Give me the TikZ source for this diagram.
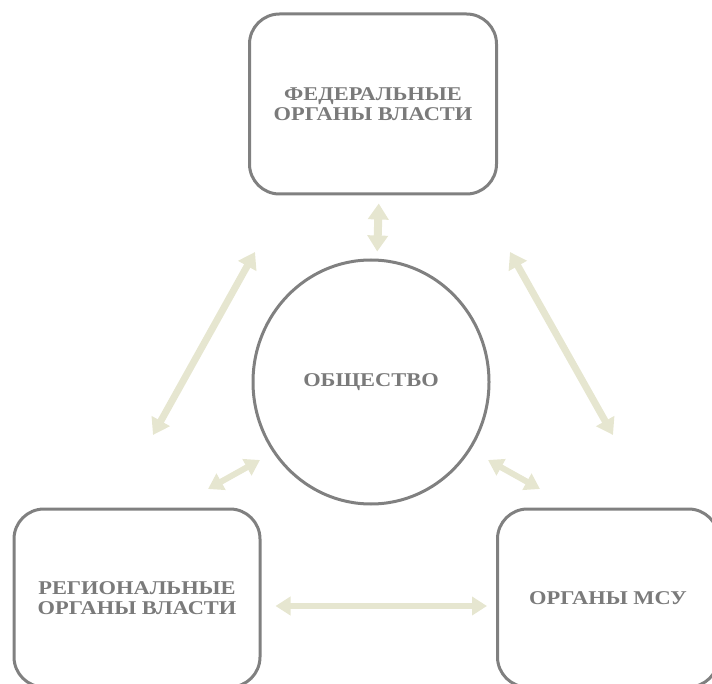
\documentclass[tikz,border=0pt]{standalone}
\usepackage{fontspec}
\setmainfont{Liberation Serif}
\newfontfamily\boxfont[FakeStretch=1.15]{Liberation Serif}
\usetikzlibrary{arrows.meta,shapes.geometric}

\definecolor{framegray}{HTML}{808080}
\definecolor{textgray}{HTML}{7A7A7A}
\definecolor{linkbeige}{HTML}{E6E6D0}

\tikzset{
  box/.style={draw=framegray, line width=3pt, rounded corners=30pt,
    align=center, font=\boxfont\bfseries\fontsize{19.5}{20.5}\selectfont, text=textgray},
  link/.style={draw=linkbeige, line width=6pt,
    {Triangle[width=18pt,length=15pt]}-{Triangle[width=18pt,length=15pt]}},
  widelink/.style={link, line width=7pt,
    {Triangle[width=20pt,length=16pt]}-{Triangle[width=20pt,length=16pt]}}
}

\begin{document}
\begin{tikzpicture}[x=1pt,y=-1pt]

        \useasboundingbox (0,0) rectangle (712,684);

        \begin{scope}[every node/.style={box}]
          \node[minimum width=247pt, minimum height=180pt] (fed) at (373,104) {ФЕДЕРАЛЬНЫЕ\\ОРГАНЫ ВЛАСТИ};
          \node[minimum width=246pt, minimum height=178pt] (reg) at (137,598) {РЕГИОНАЛЬНЫЕ\\ОРГАНЫ ВЛАСТИ};
          \node[minimum width=221pt, minimum height=178pt] (msu) at (608,598) {ОРГАНЫ МСУ};
          \node[ellipse, rounded corners=0pt, minimum width=236pt, minimum height=244pt] (soc) at (371,382) {ОБЩЕСТВО};
        \end{scope}

        \coordinate (rf1) at (153,435);
        \coordinate (rf2) at (255,252);
        \coordinate (mf1) at (613,435);
        \coordinate (mf2) at (510,252);
        \coordinate (rs1) at (208,489);
        \coordinate (rs2) at (260,460);
        \coordinate (ms1) at (540,489);
        \coordinate (ms2) at (488,460);

        \draw[widelink, line width=8pt, shorten <=8pt, shorten >=7pt]
          ([xshift=6pt]fed.south) -- ([xshift=6pt]soc.north);
        \draw[link, shorten <=14pt, shorten >=9pt] ([yshift=-8pt]reg.east) -- ([yshift=-8pt]msu.west);

        \begin{scope}[every edge/.style={widelink}]
          \path (rf1) edge (rf2);
          \path (mf1) edge (mf2);
        \end{scope}
        \begin{scope}[every edge/.style={link}]
          \path (rs1) edge (rs2);
          \path (ms1) edge (ms2);
        \end{scope}

      \end{tikzpicture}
\end{document}
